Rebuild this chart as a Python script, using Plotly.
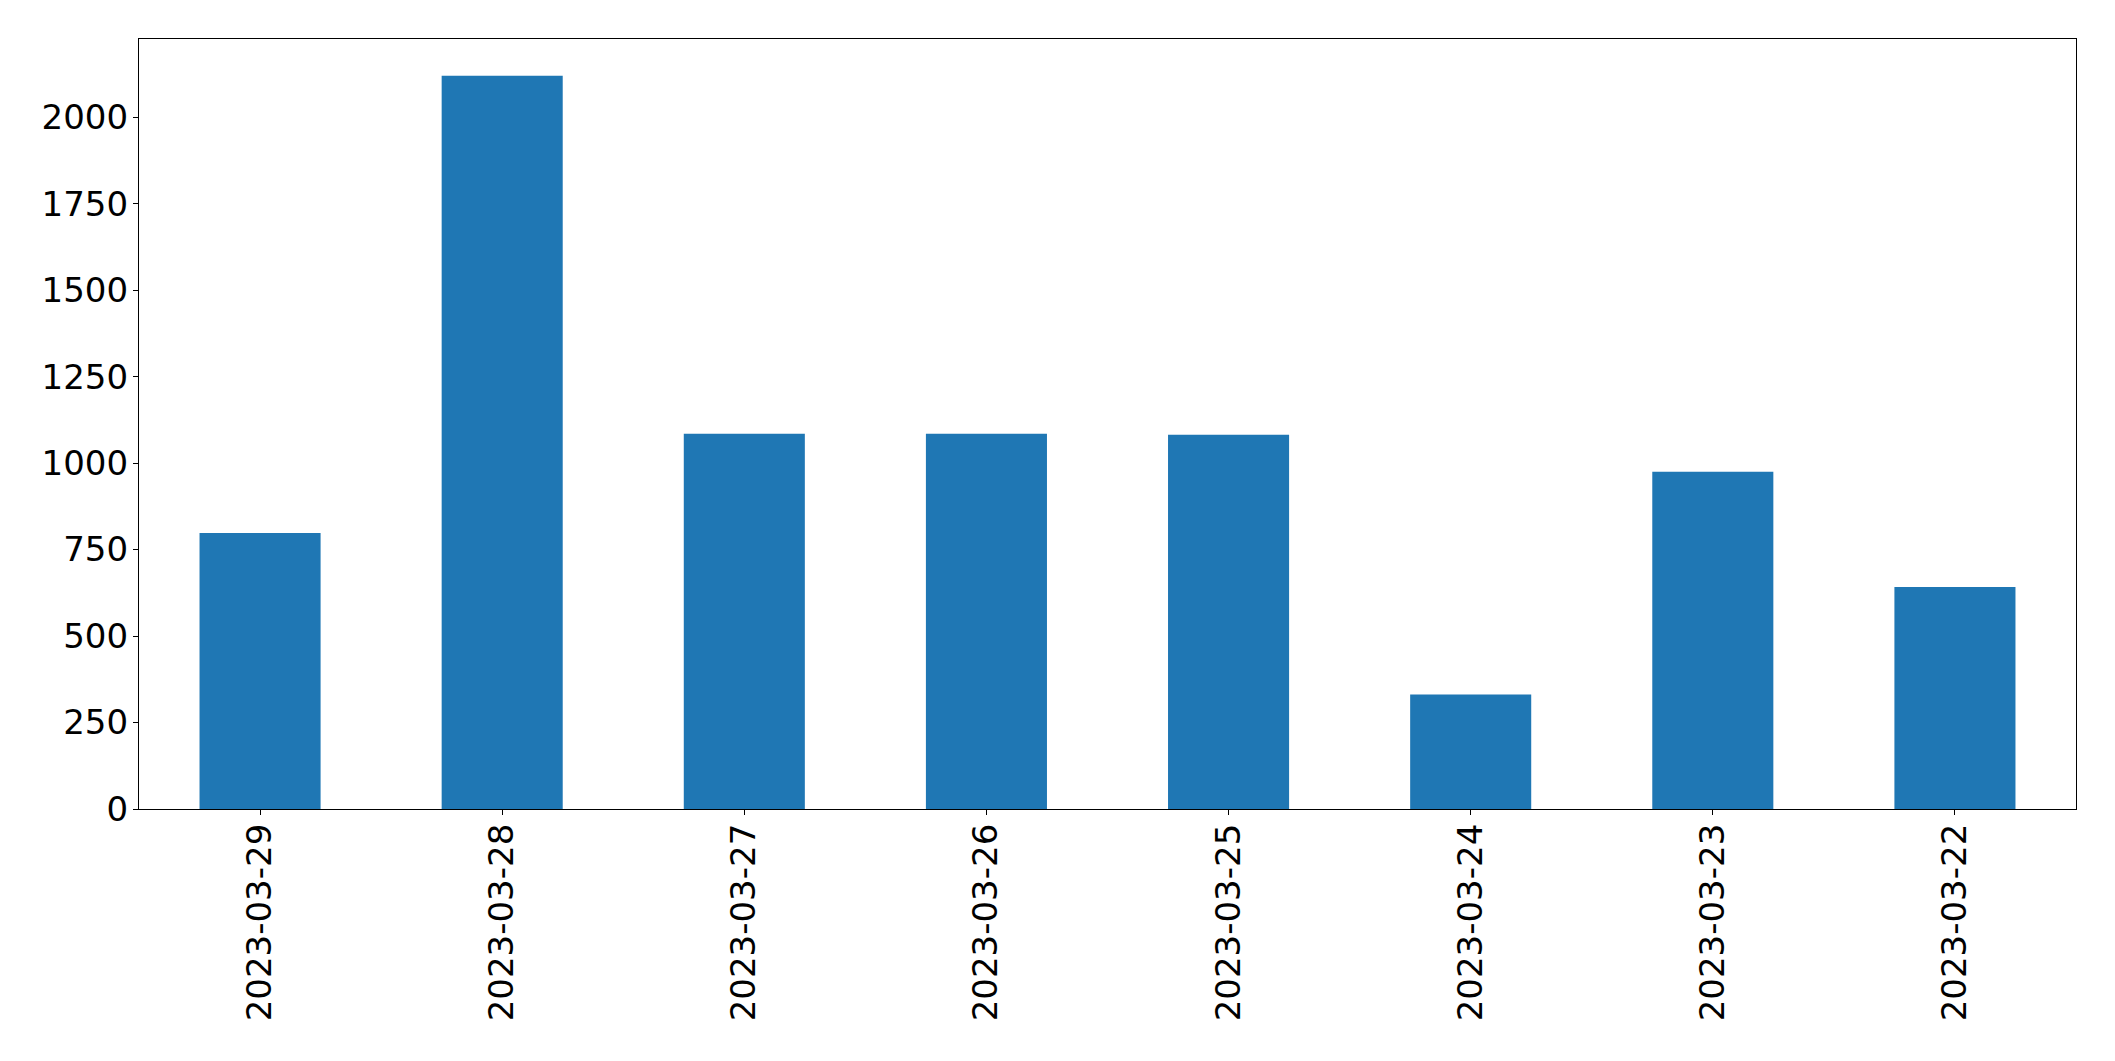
import plotly.graph_objects as go

categories = ["2023-03-29", "2023-03-28", "2023-03-27", "2023-03-26",
              "2023-03-25", "2023-03-24", "2023-03-23", "2023-03-22"]
values = [798, 2120, 1085, 1085, 1082, 331, 975, 642]
y_ticks = [0, 250, 500, 750, 1000, 1250, 1500, 1750, 2000]

fig = go.Figure(go.Bar(x=categories, y=values, width=0.5,
                       marker=dict(color="#1f77b4", line=dict(width=0))))

axis_common = dict(showline=True, linecolor="black", linewidth=1.3, mirror=True,
                   ticks="outside", ticklen=5, tickwidth=1.3, tickcolor="black",
                   showgrid=False, zeroline=False,
                   tickfont=dict(family="DejaVu Sans", size=34, color="black"))

fig.update_layout(
    width=2107, height=1053,
    margin=dict(l=131, r=39, t=31, b=252),
    paper_bgcolor="white", plot_bgcolor="white",
    showlegend=False,
    font=dict(family="DejaVu Sans"),
    xaxis=dict(type="category", range=[-0.5, 7.5], tickangle=-90,
               ticklabelstandoff=-5, **axis_common),
    yaxis=dict(range=[0, 2226], tickvals=y_ticks, ticktext=[str(v) for v in y_ticks],
               ticklabelstandoff=-2, **axis_common),
)

fig.write_html("out.html")
